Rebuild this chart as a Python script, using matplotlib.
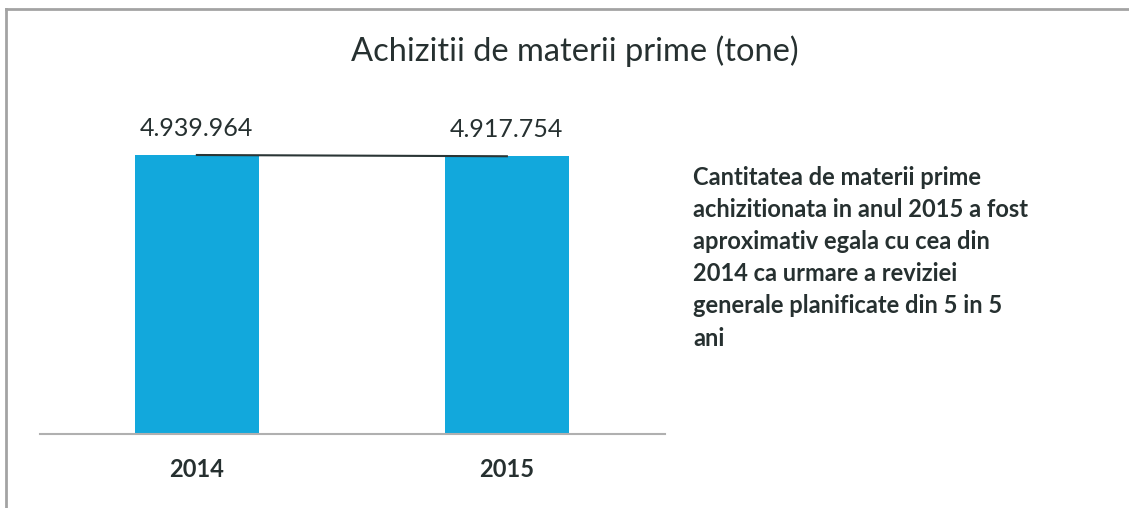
import matplotlib
matplotlib.use("Agg")
import matplotlib.pyplot as plt
from matplotlib.lines import Line2D

# date
years = ["2014", "2015"]
tone = [4939964, 4917754]
labels = ["4.939.964", "4.917.754"]
titlu = "Achizitii de materii prime (tone)"
nota = ("Cantitatea de materii prime\n"
        "achizitionata in anul 2015 a fost\n"
        "aproximativ egala cu cea din\n"
        "2014 ca urmare a reviziei\n"
        "generale planificate din 5 in 5\n"
        "ani")

plt.rcParams['font.family'] = ['Lato', 'DejaVu Sans']
W, H = 1129, 508
fig = plt.figure(figsize=(W / 100, H / 100), dpi=100)

# rama gri (doar sus si stanga)
fig.add_artist(Line2D([6 / W, 1], [1 - 9 / H, 1 - 9 / H], color="#a3a3a3", lw=2))
fig.add_artist(Line2D([6 / W, 6 / W], [0, 1 - 9 / H], color="#a3a3a3", lw=2))

# axa: x 40..665 px, baza la y=434 px
ax = fig.add_axes([40 / W, (H - 434) / H, 625 / W, 320 / H])
x = [0, 1]
ax.bar(x, tone, width=0.40, color="#12a8dc", zorder=2)
ax.plot(x, tone, color="#2a3535", lw=1.5, zorder=3)
ax.set_xlim(-0.506, 1.51)
ax.set_ylim(0, tone[0] * 320 / 279)

for xi, v, lab in zip(x, tone, labels):
    ax.annotate(lab, (xi, v), xytext=(0, 11), textcoords="offset points",
                ha="center", va="bottom", fontsize=18, color="#263030")

ax.set_xticks(x)
ax.set_xticklabels(years, fontsize=17, fontweight="bold", color="#263030")
ax.tick_params(axis="x", length=0, pad=17)
ax.set_yticks([])
for s in ["top", "right", "left"]:
    ax.spines[s].set_visible(False)
ax.spines["bottom"].set_color("#b0b0b0")
ax.spines["bottom"].set_linewidth(1.5)

fig.text(575 / W, 1 - 51 / H, titlu, ha="center", va="center",
         fontsize=23.5, color="#263030")
fig.text(693 / W, 1 - 166 / H, nota, ha="left", va="top",
         fontsize=17, color="#263030", fontweight="bold", linespacing=1.48)

fig.savefig("out.png", dpi=100, facecolor="white")
